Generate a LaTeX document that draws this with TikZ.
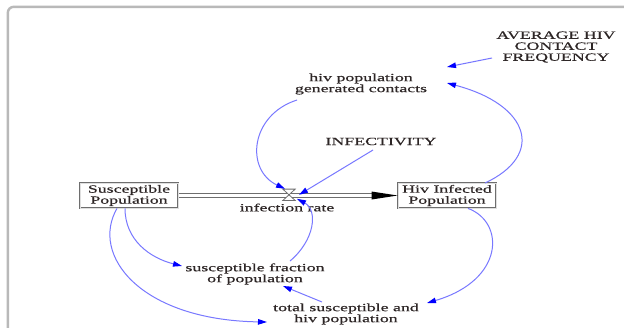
\documentclass[tikz,border=0pt]{standalone}
\usepackage{fontspec}
\setmainfont{Liberation Serif}[FakeStretch=1.62,FakeBold=0.6]
\usetikzlibrary{arrows.meta}
\definecolor{linkblue}{RGB}{120,120,255}
\definecolor{tipblue}{RGB}{0,0,255}
\definecolor{ink}{RGB}{45,38,38}
\definecolor{pipegray}{RGB}{110,110,110}
\tikzset{
  lbl/.style={font=\fontsize{11bp}{11bp}\selectfont, text=ink, align=center, inner sep=0pt},
  stock/.style={lbl, draw=pipegray, double=gray!25, double distance=0.8bp, line width=0.8bp,
    minimum width=98bp, minimum height=25bp},
  link/.style={draw=linkblue, line width=1bp, -{Triangle[length=9bp,width=5.5bp,color=tipblue]}},
  pipe/.style={draw=pipegray, double=white, double distance=3.4bp, line width=0.9bp},
}
\begin{document}
\begin{tikzpicture}[x=1bp,y=-1bp]
\useasboundingbox (0,0) rectangle (624,327);
\clip (0,0) rectangle (624,327);
\fill[white] (0,0) rectangle (624,327);
% panel frame
\draw[gray!55, line width=2.4bp, rounded corners=6bp] (7.8,400) -- (7.8,6.8) -- (700,6.8);

% stocks, rate and auxiliaries
\node[stock] (spop) at (129,195.5) {Susceptible\\Population};
\node[stock] (hpop) at (447,195.5) {Hiv Infected\\Population};
\node[minimum width=12bp, minimum height=11bp, inner sep=0pt] (valve) at (289,194.8) {};
\node[lbl] (rate) at (287,207.5) {infection rate};
\node[lbl] (infect) at (381,141.5) {INFECTIVITY};
\node[lbl] (gen) at (361,84) {hiv population\\generated contacts};
\node[lbl] (avg) at (556,47) {AVERAGE HIV\\CONTACT\\FREQUENCY};
\node[lbl] (sfrac) at (255,274) {susceptible fraction\\of population};
\node[lbl] (total) at (346,314) {total susceptible and\\hiv population};

% flow pipe with valve
\draw[pipe] ([xshift=1bp]spop.east) -- ([xshift=-24bp]hpop.west);
\fill[black] (hpop.west) -- ([shift={(-26,-4)}]hpop.west) -- ([shift={(-26,4)}]hpop.west) -- cycle;
\draw[pipegray, fill=white, line width=0.8bp] (valve.north west) -- (valve.north east) -- (valve.south west) -- (valve.south east) -- cycle;

% causal links
\draw[link] ([shift={(-64,11)}]avg.center) -- ([shift={(86,-17)}]gen.center);
\draw[link] ([shift={(38,-12.5)}]hpop.center) .. controls (545,155) and (530,105) .. ([shift={(86,-1)}]gen.center);
\draw[link] ([shift={(-64,16)}]gen.center) .. controls (250,115) and (245,170) .. ([shift={(-4,-6)}]valve.center);
\draw[link] ([shift={(-8,8.5)}]infect.center) -- ([shift={(10,0)}]valve.center);
\draw[link] ([shift={(35,-13)}]sfrac.center) .. controls (315,240) and (318,210) .. ([shift={(8,4)}]valve.center);
\draw[link] ([shift={(-4,0)}]spop.south) .. controls (125,240) and (150,258) .. ([shift={(-73,-8)}]sfrac.center);
\draw[link] ([shift={(-12,0)}]spop.south) .. controls (90,255) and (140,320) .. ([shift={(-79,8)}]total.center);
\draw[link] ([shift={(21,0)}]hpop.south) .. controls (505,222) and (505,280) .. ([shift={(81,-11)}]total.center);
\draw[link] ([shift={(-24,-12)}]total.center) -- ([shift={(28,12)}]sfrac.center);
\end{tikzpicture}
\end{document}
